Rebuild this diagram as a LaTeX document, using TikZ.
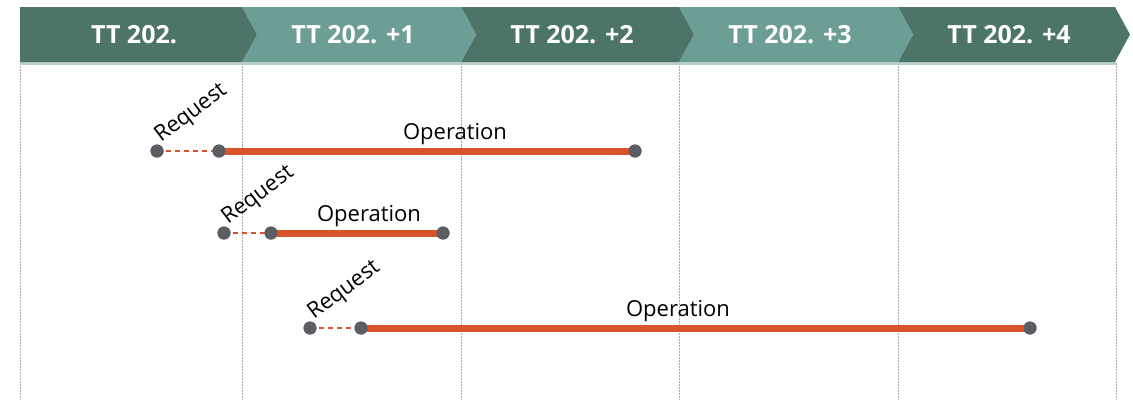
\documentclass[tikz,border=0pt]{standalone}
\usepackage{fontspec}
\setmainfont{Open Sans}
\definecolor{tealdark}{HTML}{4C7468}
\definecolor{teallight}{HTML}{6C9E95}
\definecolor{tealpale}{HTML}{B9D0CA}
\definecolor{barorange}{HTML}{D9532B}
\definecolor{dotgray}{HTML}{5A5E63}
\definecolor{gridgray}{HTML}{A8A8A8}
\begin{document}
\begin{tikzpicture}[x=1pt,y=-1pt,
  headtext/.style={text=white,font=\bfseries\fontsize{25}{28}\selectfont,inner sep=0pt},
  dotnode/.style={circle,fill=dotgray,minimum size=13pt,inner sep=0pt},
  opbar/.style={barorange,line width=7pt},
  reqline/.style={barorange,line width=1.2pt,dash pattern=on 5pt off 4pt},
  gridline/.style={gridgray,line width=0.7pt,dash pattern=on 1.5pt off 1.5pt},
  reqlabel/.style={font=\fontsize{22}{26}\selectfont,rotate=37,anchor=base west,inner sep=0pt},
  oplabel/.style={font=\fontsize{22}{26}\selectfont,anchor=base,inner sep=0pt}]
\useasboundingbox (0,0) rectangle (1133,400);
\fill[white] (0,0) rectangle (1133,400);

% period grid lines
\foreach \gx in {20,242,461,679,898,1116}
  \draw[gridline] (\gx,63) -- (\gx,400);

% pale rule under the header band
\fill[tealpale] (20,62) rectangle (1116,64.5);

% header chevrons (drawn right to left so each tip sits on top of the next notch)
\fill[tealdark] (898,7) -- (1115,7) -- (1130,34.5) -- (1115,62) -- (898,62) -- (913,34.5) -- cycle;
\fill[teallight] (679,7) -- (898,7) -- (913,34.5) -- (898,62) -- (679,62) -- (694,34.5) -- cycle;
\fill[tealdark] (461,7) -- (679,7) -- (694,34.5) -- (679,62) -- (461,62) -- (476,34.5) -- cycle;
\fill[teallight] (242,7) -- (461,7) -- (476,34.5) -- (461,62) -- (242,62) -- (257,34.5) -- cycle;
\fill[tealdark] (20,7) -- (242,7) -- (257,34.5) -- (242,62) -- (20,62) -- cycle;

\node[headtext] (h0) at (134,35) {TT 202.};
\node[headtext] (h1) at (353,35) {TT 202. +1};
\node[headtext] (h2) at (572,35) {TT 202. +2};
\node[headtext] (h3) at (790,35) {TT 202. +3};
\node[headtext] (h4) at (1009,35) {TT 202. +4};

% row 1
\node[dotnode] (r1) at (157,151) {};
\node[dotnode] (s1) at (219,151) {};
\node[dotnode] (e1) at (635,151) {};
% row 2
\node[dotnode] (r2) at (224,233) {};
\node[dotnode] (s2) at (271,233) {};
\node[dotnode] (e2) at (443,233) {};
% row 3
\node[dotnode] (r3) at (310,328) {};
\node[dotnode] (s3) at (361,328) {};
\node[dotnode] (e3) at (1030,328) {};

% request waits (dashed) and operation spans (thick)
\draw[reqline] (r1.center) -- (s1.center);
\draw[opbar] (s1.center) -- (e1.center);
\draw[reqline] (r2.center) -- (s2.center);
\draw[opbar] (s2.center) -- (e2.center);
\draw[reqline] (r3.center) -- (s3.center);
\draw[opbar] (s3.center) -- (e3.center);

% redraw the dots over the bars
\foreach \d in {r1,s1,e1,r2,s2,e2,r3,s3,e3}
  \fill[dotgray] (\d.center) circle (6.5);

\node[reqlabel] (q1) at ([xshift=4pt,yshift=8pt]r1.center) {Request};
\node[reqlabel] (q2) at ([xshift=4pt,yshift=8pt]r2.center) {Request};
\node[reqlabel] (q3) at ([xshift=4pt,yshift=8pt]r3.center) {Request};

\node[oplabel] (o1) at (455,139) {Operation};
\node[oplabel] (o2) at (369,221) {Operation};
\node[oplabel] (o3) at (678,316) {Operation};
\end{tikzpicture}
\end{document}
